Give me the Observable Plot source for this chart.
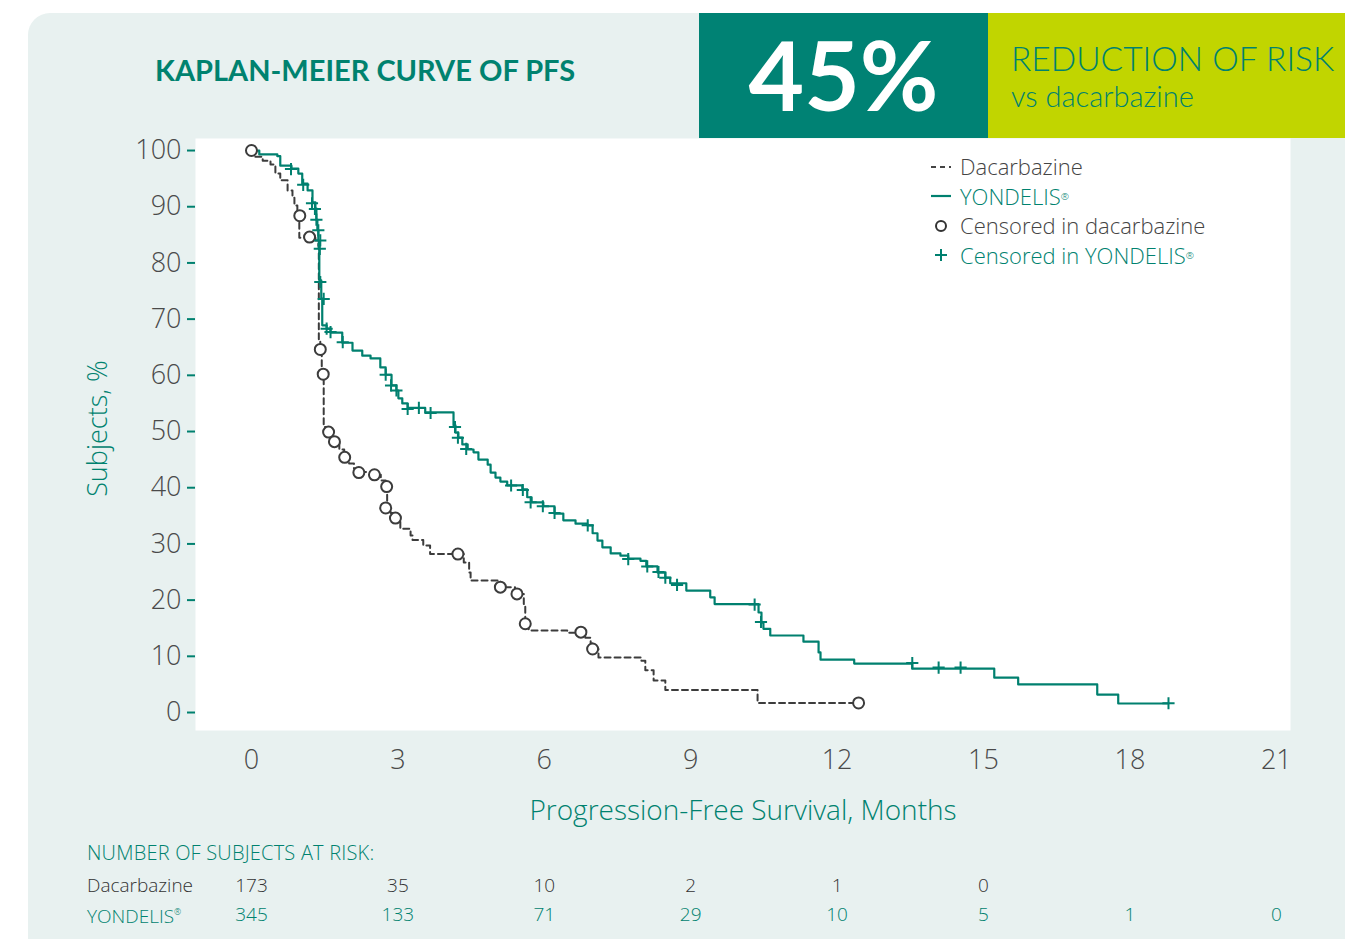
<!DOCTYPE html>
<html><head><meta charset="utf-8">
<script src="https://cdn.jsdelivr.net/npm/d3@7"></script>
<script src="https://cdn.jsdelivr.net/npm/@observablehq/plot@0.6"></script>
<style>
body{margin:0;background:#fff;width:1345px;height:939px;overflow:hidden;position:relative;font-family:"Open Sans",sans-serif;}
#panel{position:absolute;left:28px;top:13px;right:0;bottom:0;background:#e8f1f0;border-top-left-radius:22px;}
#title{position:absolute;left:155px;top:52px;font-family:Lato,sans-serif;font-weight:700;font-size:29px;color:#00826f;white-space:nowrap;}
#big{position:absolute;left:699px;top:13px;width:289px;height:125px;background:#008274;color:#fff;font-family:Lato,sans-serif;font-weight:700;font-size:96px;line-height:122px;text-align:center;}
#lime{position:absolute;left:988px;top:13px;right:0;height:125px;background:#c1d500;overflow:hidden;white-space:nowrap;font-family:Lato,sans-serif;}
#lime .a{position:absolute;left:23px;top:27px;font-size:33.5px;line-height:36px;font-weight:300;color:#00826f;}
#lime .b{position:absolute;left:23px;top:68px;font-size:29px;line-height:30px;font-weight:300;color:#00826f;}
#chart{position:absolute;left:0;top:0;}
#risk{position:absolute;left:0;top:870px;}
#riskhead{position:absolute;left:87px;top:839px;font-size:20px;font-weight:300;color:#00826f;white-space:nowrap;letter-spacing:0.2px;}
.rowlab{position:absolute;left:87px;font-size:19px;font-weight:300;white-space:nowrap;line-height:22px;}
#legend{position:absolute;left:930px;top:152px;font-size:22px;font-weight:300;line-height:29.5px;white-space:nowrap;}
#legend div{display:flex;align-items:center;}
#legend svg{width:22px;height:20px;margin-right:8px;}
sup{font-size:0.45em;vertical-align:0.9em;}
</style></head>
<body>
<div id="panel"></div>
<div id="title">KAPLAN-MEIER CURVE OF PFS</div>
<div id="big">45%</div>
<div id="lime"><div class="a">REDUCTION OF RISK</div><div class="b">vs dacarbazine</div></div>
<div id="chart"></div>
<div id="legend">
  <div style="color:#444"><svg viewBox="0 0 22 20"><line x1="1" y1="10" x2="21" y2="10" stroke="#444" stroke-width="2" stroke-dasharray="5,4"/></svg>Dacarbazine</div>
  <div style="color:#00826f"><svg viewBox="0 0 22 20"><line x1="1" y1="10" x2="21" y2="10" stroke="#00806f" stroke-width="2.2"/></svg>YONDELIS<sup>®</sup></div>
  <div style="color:#444"><svg viewBox="0 0 22 20"><circle cx="11" cy="10" r="5" fill="none" stroke="#333" stroke-width="2"/></svg>Censored in dacarbazine</div>
  <div style="color:#00826f"><svg viewBox="0 0 22 20"><path d="M5,10H17M11,4V16" stroke="#00806f" stroke-width="2"/></svg>Censored in YONDELIS<sup>®</sup></div>
</div>
<div id="riskhead">NUMBER OF SUBJECTS AT RISK:</div>
<div class="rowlab" style="top:874px;color:#333">Dacarbazine</div>
<div class="rowlab" style="top:901px;color:#00826f">YONDELIS<sup>®</sup></div>
<div id="risk"></div>
<script>
const xTicks = [0, 3, 6, 9, 12, 15, 18, 21];
const yTicks = [0, 10, 20, 30, 40, 50, 60, 70, 80, 90, 100];

// Kaplan-Meier steps (month, % progression-free)
const yondelisTime = [0,0.16,0.53,0.59,0.82,0.96,1.04,1.15,1.25,1.31,1.33,1.35,1.37,1.38,1.39,1.43,1.45,1.54,1.62,1.86,2.07,2.27,2.44,2.64,2.75,2.87,2.97,3.01,3.09,3.20,3.56,4.14,4.18,4.24,4.32,4.43,4.55,4.65,4.84,4.90,5.00,5.10,5.24,5.55,5.65,5.74,5.98,6.21,6.39,6.64,6.88,6.99,7.09,7.19,7.36,7.56,7.72,7.97,8.09,8.32,8.48,8.58,8.91,9.40,9.49,10.39,10.45,10.49,10.63,11.31,11.62,11.66,12.35,13.54,15.22,15.71,17.33,17.76,18.79];
const yondelisSurv = [100,99.3,99.0,97.3,96.8,95.9,94.1,92.9,90.8,89.7,87.7,85.8,84.0,82.6,76.9,73.7,68.9,68.3,67.6,65.8,64.4,63.5,63.0,61.4,60.1,58.2,57.3,55.9,55.0,54.2,53.4,51.1,49.8,48.9,47.7,46.8,46.3,45.0,44.1,42.7,41.8,41.1,40.4,39.7,38.3,37.4,36.7,35.4,34.2,33.6,33.3,31.9,30.6,29.4,28.3,27.9,27.4,27.0,26.0,24.9,24.0,23.0,21.7,20.5,19.3,17.8,16.0,14.9,13.7,12.6,10.7,9.4,8.7,7.8,6.2,5.0,3.2,1.6,1.6];

const dacarbazineTime = [0,0.04,0.23,0.39,0.49,0.59,0.74,0.84,0.88,0.94,0.98,1.31,1.37,1.38,1.41,1.44,1.48,1.55,1.65,1.72,1.80,1.90,2.00,2.10,2.20,2.45,2.65,2.75,2.78,2.85,2.95,3.05,3.26,3.30,3.52,3.66,4.35,4.46,4.49,5.10,5.40,5.58,5.61,5.68,6.47,6.84,6.95,6.99,7.11,7.99,8.07,8.24,8.48,10.37,12.44];
const dacarbazineSurv = [100,98.9,98.2,97.5,95.9,94.7,92.9,91.6,90.2,88.4,84.5,84.0,83.0,66.2,64.5,60.2,50.8,50.0,48.7,48.2,46.8,45.4,44.3,43.4,42.8,42.3,41.3,40.2,36.4,35.5,34.6,32.7,31.5,30.7,29.7,28.2,26.7,24.9,23.5,22.3,21.1,19.3,15.8,14.6,14.2,13.3,12.3,11.3,9.8,9.2,7.5,5.7,4.0,1.7,1.7];

// Censored observations
const yondelisCensorTime = [0.81,1.06,1.24,1.30,1.33,1.37,1.41,1.40,1.41,1.48,1.54,1.62,1.87,2.75,2.86,2.97,3.20,3.43,3.67,4.17,4.23,4.40,5.32,5.56,5.72,5.97,6.21,6.89,7.72,8.11,8.34,8.48,8.72,10.31,10.44,13.54,14.08,14.53,18.79];
const yondelisCensorSurv = [96.7,93.9,90.6,89.6,87.7,85.8,84.0,82.5,76.6,73.6,68.3,67.7,65.9,60.1,58.2,57.3,54.0,54.2,53.3,50.8,48.9,46.9,40.4,39.6,37.4,36.7,35.5,33.3,27.3,26.0,25.0,24.0,22.7,19.2,16.1,8.8,8.0,8.0,1.65];
const dacCensorTime = [0,0.99,1.19,1.41,1.47,1.58,1.70,1.91,2.20,2.52,2.77,2.75,2.95,4.23,5.10,5.44,5.61,6.75,6.99,12.44];
const dacCensorSurv = [100,88.4,84.6,64.6,60.2,49.9,48.2,45.4,42.7,42.3,40.2,36.4,34.6,28.2,22.3,21.1,15.8,14.3,11.3,1.7];

// Number at risk
const riskTimes = [0, 3, 6, 9, 12, 15, 18, 21];
const riskDacarbazine = [173, 35, 10, 2, 1, 0];
const riskYondelis = [345, 133, 71, 29, 10, 5, 1, 0];

const teal = "#00806f", tealText = "#00826f", gray = "#4a4a4a", dark = "#3c3c3c";
const xDomain = [-1.147, 21.29];

const yon = yondelisTime.map((t, i) => ({t, s: yondelisSurv[i]}));
const dac = dacarbazineTime.map((t, i) => ({t, s: dacarbazineSurv[i]}));
const yonC = yondelisCensorTime.map((t, i) => ({t, s: yondelisCensorSurv[i]}));
const dacC = dacCensorTime.map((t, i) => ({t, s: dacCensorSurv[i]}));

const chart = Plot.plot({
  width: 1345, height: 830,
  marginTop: 138, marginLeft: 195, marginRight: 55, marginBottom: 100,
  style: {background: "transparent", fontFamily: "'Open Sans', sans-serif", fontWeight: 300, overflow: "visible"},
  x: {domain: xDomain},
  y: {domain: [-3.2, 102.14]},
  marks: [
    Plot.frame({fill: "white", stroke: null}),
    Plot.axisY({ticks: yTicks, tickSize: 8, tickPadding: 6, stroke: teal, strokeWidth: 2, fill: gray, fontSize: 27, label: null}),
    Plot.axisX({ticks: xTicks, tickSize: 0, tickPadding: 19, fill: gray, fontSize: 27, label: null}),
    Plot.text(["Subjects, %"], {frameAnchor: "left", rotate: -90, dx: -97, dy: -6, fill: tealText, fontSize: 27, textAnchor: "middle", lineAnchor: "middle"}),
    Plot.text(["Progression-Free Survival, Months"], {frameAnchor: "bottom", dy: 81, fill: tealText, fontSize: 28, textAnchor: "middle", lineAnchor: "middle"}),
    Plot.line(dac, {x: "t", y: "s", curve: "step-after", stroke: dark, strokeWidth: 2, strokeDasharray: "6,4"}),
    Plot.line(yon, {x: "t", y: "s", curve: "step-after", stroke: teal, strokeWidth: 2.2}),
    Plot.dot(dacC, {x: "t", y: "s", r: 5.5, fill: "white", stroke: dark, strokeWidth: 2}),
    Plot.dot(yonC, {x: "t", y: "s", symbol: "plus", r: 4, stroke: teal, strokeWidth: 2})
  ]
});
document.getElementById("chart").append(chart);

const riskRows = [
  ...riskDacarbazine.map((n, i) => ({row: "Dacarbazine", t: riskTimes[i], n})),
  ...riskYondelis.map((n, i) => ({row: "YONDELIS®", t: riskTimes[i], n}))
];
const risk = Plot.plot({
  width: 1345, height: 60,
  marginTop: 15, marginBottom: 16, marginLeft: 195, marginRight: 55,
  style: {background: "transparent", fontFamily: "'Open Sans', sans-serif", fontWeight: 300, overflow: "visible"},
  x: {domain: xDomain, axis: null},
  y: {type: "point", domain: ["Dacarbazine", "YONDELIS®"], padding: 0, axis: null},
  color: {domain: ["Dacarbazine", "YONDELIS®"], range: ["#333333", tealText]},
  marks: [
    Plot.text(riskRows, {x: "t", y: "row", text: "n", fill: "row", fontSize: 19, lineAnchor: "middle"})
  ]
});
document.getElementById("risk").append(risk);
</script>
</body></html>
